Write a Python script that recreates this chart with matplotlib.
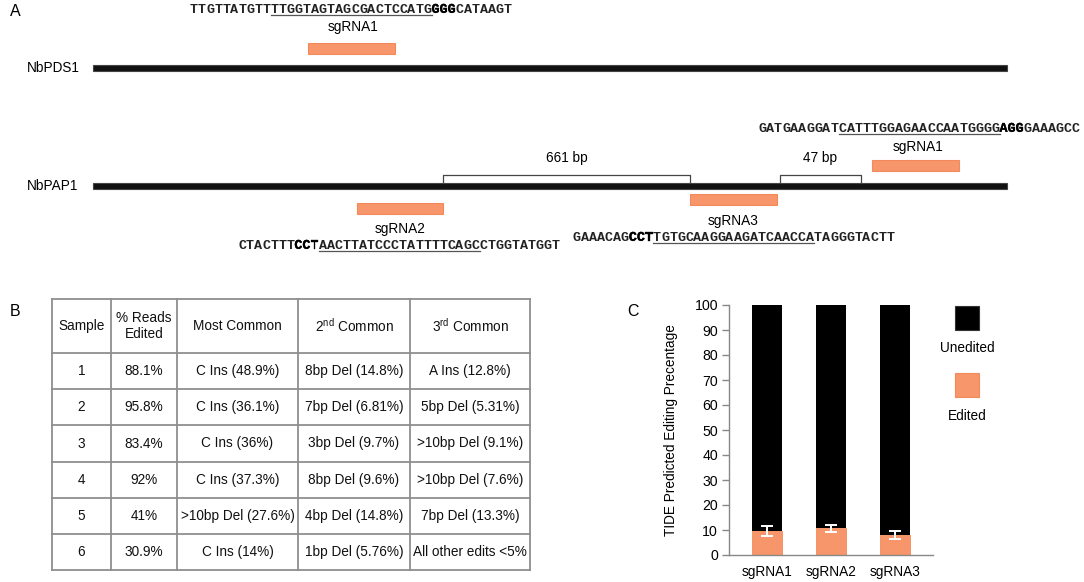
import matplotlib
matplotlib.use("Agg")
import matplotlib.pyplot as plt
from matplotlib.patches import Rectangle
import matplotlib.patheffects as pe

plt.rcParams['font.family'] = ['Liberation Sans', 'DejaVu Sans']
plt.rcParams['mathtext.fontset'] = 'custom'
plt.rcParams['mathtext.rm'] = 'Liberation Sans'

# ---------------- data ----------------
# sequences: (text, bold, underlined)
pds1_seq = [("TTGTTATGTT", False, False), ("TTGGTAGTAGCGACTCCATG", False, True),
            ("GGG", True, False), ("CATAAGT", False, False)]
pap1_sg1_seq = [("GATGAAGGAT", False, False), ("CATTTGGAGAACCAATGGGG", False, True),
                ("AGG", True, False), ("GAAAGCC", False, False)]
pap1_sg2_seq = [("CTACTTT", False, False), ("CCT", True, False),
                ("AACTTATCCCTATTTTCAGC", False, True), ("CTGGTATGGT", False, False)]
pap1_sg3_seq = [("GAAACAG", False, False), ("CCT", True, False),
                ("TGTGCAAGGAAGATCAACCA", False, True), ("TAGGGTACTT", False, False)]
gene_names = ["NbPDS1", "NbPAP1"]
guide_labels = ["sgRNA1", "sgRNA1", "sgRNA2", "sgRNA3"]
distance_labels = ["661 bp", "47 bp"]

table_header = ["Sample", "% Reads\nEdited", "Most Common",
                "2$^{\\mathrm{nd}}$ Common", "3$^{\\mathrm{rd}}$ Common"]
samples = ["1", "2", "3", "4", "5", "6"]
reads_edited = ["88.1%", "95.8%", "83.4%", "92%", "41%", "30.9%"]
most_common = ["C Ins (48.9%)", "C Ins (36.1%)", "C Ins (36%)", "C Ins (37.3%)",
               ">10bp Del (27.6%)", "C Ins (14%)"]
second_common = ["8bp Del (14.8%)", "7bp Del (6.81%)", "3bp Del (9.7%)",
                 "8bp Del (9.6%)", "4bp Del (14.8%)", "1bp Del (5.76%)"]
third_common = ["A Ins (12.8%)", "5bp Del (5.31%)", ">10bp Del (9.1%)",
                ">10bp Del (7.6%)", "7bp Del (13.3%)", "All other edits <5%"]

guides = ["sgRNA1", "sgRNA2", "sgRNA3"]
edited = [9.8, 10.7, 8.1]
edited_err = [2.0, 1.4, 1.6]
unedited = [90.2, 89.3, 91.9]
yticks = [0, 10, 20, 30, 40, 50, 60, 70, 80, 90, 100]

ORANGE = "#F6966A"
ORANGE_EDGE = "#F28A5C"

# ---------------- figure ----------------
fig = plt.figure(figsize=(10.84, 5.82), dpi=100)
ax0 = fig.add_axes([0, 0, 1, 1])
ax0.set_xlim(0, 1084)
ax0.set_ylim(582, 0)
ax0.axis("off")

SEQ_FS = 9.6
CW = 8.05
SEQ_C = "#222222"
bold_stroke = [pe.withStroke(linewidth=0.25, foreground="#000000")]


def draw_seq(x0, yc, segs):
    i = 0
    base = yc + 3.8
    for txt, bold, ul in segs:
        xs = x0 + i * CW
        for k, ch in enumerate(txt):
            ax0.text(xs + k * CW + CW / 2, base, ch,
                     family=["Liberation Mono", "DejaVu Sans Mono"],
                     fontsize=SEQ_FS, fontweight="bold",
                     color="#000000" if bold else SEQ_C, ha="center", va="baseline",
                     path_effects=bold_stroke if bold else None)
        if ul:
            ax0.plot([xs, xs + len(txt) * CW], [base + 2.2, base + 2.2],
                     color="#555555", lw=0.9)
        i += len(txt)


LABEL_FS = 9.8

# Panel A
ax0.text(10, 12, "A", fontsize=11.5, ha="left", va="center")
draw_seq(190, 9, pds1_seq)
ax0.text(353, 27, guide_labels[0], fontsize=LABEL_FS, ha="center", va="center")
ax0.add_patch(Rectangle((308, 43), 87, 11, facecolor=ORANGE, edgecolor=ORANGE_EDGE, lw=0.8))
ax0.text(27, 68, gene_names[0], fontsize=LABEL_FS, ha="left", va="center")
ax0.add_patch(Rectangle((93, 65), 914, 6, facecolor="#111111", edgecolor="#444444", lw=0.8))

draw_seq(758, 128, pap1_sg1_seq)
ax0.text(918, 147, guide_labels[1], fontsize=LABEL_FS, ha="center", va="center")
ax0.add_patch(Rectangle((872, 160), 87, 11, facecolor=ORANGE, edgecolor=ORANGE_EDGE, lw=0.8))

# brackets
for (xl, xr), lab in zip([(443, 690), (780, 861)], distance_labels):
    ax0.plot([xl, xl, xr, xr], [183, 175, 175, 183], color="#444444", lw=0.9)
    ax0.text((xl + xr) / 2, 158, lab, fontsize=LABEL_FS, ha="center", va="center")

ax0.text(27, 186, gene_names[1], fontsize=LABEL_FS, ha="left", va="center")
ax0.add_patch(Rectangle((93, 183), 914, 6, facecolor="#111111", edgecolor="#444444", lw=0.8))

ax0.add_patch(Rectangle((357, 203), 86, 11, facecolor=ORANGE, edgecolor=ORANGE_EDGE, lw=0.8))
ax0.text(400, 229, guide_labels[2], fontsize=LABEL_FS, ha="center", va="center")
draw_seq(238, 245, pap1_sg2_seq)

ax0.add_patch(Rectangle((690, 194), 87, 11, facecolor=ORANGE, edgecolor=ORANGE_EDGE, lw=0.8))
ax0.text(733, 221, guide_labels[3], fontsize=LABEL_FS, ha="center", va="center")
draw_seq(572.5, 237, pap1_sg3_seq)

# Panel B table
ax0.text(10, 311, "B", fontsize=11.5, ha="left", va="center")
col_x = [52, 111, 177, 298, 410, 530]
row_y = [299, 353, 389, 425, 462, 498, 534, 570]
LINE_C = "#8f8f8f"
for x in col_x:
    ax0.plot([x, x], [row_y[0], row_y[-1]], color=LINE_C, lw=1.3)
for y in row_y:
    ax0.plot([col_x[0], col_x[-1]], [y, y], color=LINE_C, lw=1.3)
TAB_FS = 9.8
for j, h in enumerate(table_header):
    xc = (col_x[j] + col_x[j + 1]) / 2
    ax0.text(xc, (row_y[0] + row_y[1]) / 2, h, fontsize=TAB_FS, ha="center",
             va="center", linespacing=1.1, color="#111111")
columns = [samples, reads_edited, most_common, second_common, third_common]
for j, col in enumerate(columns):
    xc = (col_x[j] + col_x[j + 1]) / 2
    for i, val in enumerate(col):
        yc = (row_y[i + 1] + row_y[i + 2]) / 2
        ax0.text(xc, yc, val, fontsize=TAB_FS, ha="center", va="center", color="#111111")

# Panel C
ax0.text(627, 311, "C", fontsize=11.5, ha="left", va="center")
ax0.add_patch(Rectangle((955, 306), 24, 24, facecolor="black", edgecolor="#333333", lw=0.8))
ax0.text(967, 348, "Unedited", fontsize=9.8, ha="center", va="center")
ax0.add_patch(Rectangle((955, 373), 24, 24, facecolor=ORANGE, edgecolor=ORANGE_EDGE, lw=0.8))
ax0.text(967, 416, "Edited", fontsize=9.8, ha="center", va="center")

W, H = 1084, 582
ax = fig.add_axes([729 / W, (H - 555) / H, 204 / W, 250 / H])
ax.set_facecolor("none")
xs = list(range(len(guides)))
ax.bar(xs, edited, width=0.47, color=ORANGE, edgecolor=ORANGE_EDGE, lw=0.6)
ax.bar(xs, unedited, width=0.47, bottom=edited, color="black")
ax.errorbar(xs, edited, yerr=edited_err, fmt="none", ecolor="white", elinewidth=1.4,
            capsize=4.5, capthick=1.4)
ax.set_xlim(-0.59, 2.59)
ax.set_ylim(0, 100)
ax.set_yticks(yticks)
ax.set_xticks(xs)
ax.set_xticklabels(guides, fontsize=9.8)
ax.tick_params(axis="y", labelsize=10.2, length=5, color="#888888", width=1, pad=3)
ax.tick_params(axis="x", length=0, pad=7)
for s in ["top", "right"]:
    ax.spines[s].set_visible(False)
for s in ["left", "bottom"]:
    ax.spines[s].set_color("#888888")
    ax.spines[s].set_linewidth(1)
ax.set_ylabel("TIDE Predicted Editing Precentage", fontsize=9.8)
ax.yaxis.set_label_coords(-0.25, 0.5)

fig.savefig("out.png", dpi=100)
